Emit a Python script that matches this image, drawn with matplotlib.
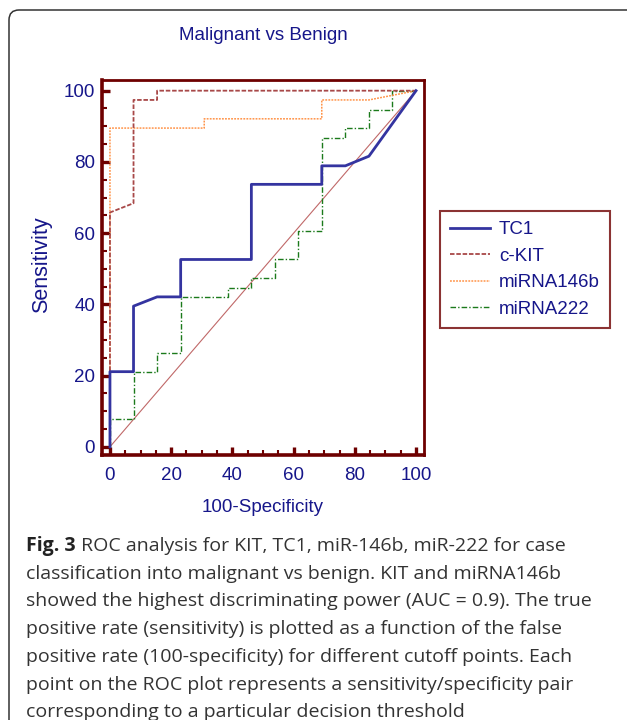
import matplotlib
matplotlib.use("Agg")
import matplotlib.pyplot as plt
from matplotlib import font_manager
from matplotlib.patches import FancyBboxPatch
from matplotlib.transforms import IdentityTransform

# ROC curves (x = 100-specificity, y = sensitivity)
tc1_x = [0, 0, 7.7, 7.7, 15.4, 23.1, 23.1, 46.2, 46.2, 69.2, 69.2, 76.9, 84.6, 100]
tc1_y = [0, 21.1, 21.1, 39.5, 42.1, 42.1, 52.6, 52.6, 73.7, 73.7, 78.9, 78.9, 81.6, 100]

ckit_x = [0, 0, 7.7, 7.7, 15.4, 15.4, 100]
ckit_y = [0, 65.8, 68.4, 97.4, 97.4, 100, 100]

mir146_x = [0, 0, 30.8, 30.8, 69.2, 69.2, 84.6, 100]
mir146_y = [0, 89.5, 89.5, 92.1, 92.1, 97.4, 97.4, 100]

mir222_x = [0, 0, 7.7, 7.7, 15.4, 15.4, 23.1, 23.1, 38.5, 38.5, 46.2, 46.2, 53.8,
            53.8, 61.5, 61.5, 69.2, 69.2, 76.9, 76.9, 84.6, 84.6, 92.3, 92.3, 100]
mir222_y = [0, 7.9, 7.9, 21.1, 21.1, 26.3, 26.3, 42.1, 42.1, 44.7, 44.7, 47.4, 47.4,
            52.6, 52.6, 60.5, 60.5, 86.8, 86.8, 89.5, 89.5, 94.7, 94.7, 100, 100]

labels = ["TC1", "c-KIT", "miRNA146b", "miRNA222"]
ticks = [0, 20, 40, 60, 80, 100]

caption = [
    "ROC analysis for KIT, TC1, miR-146b, miR-222 for case",
    "classification into malignant vs benign. KIT and miRNA146b",
    "showed the highest discriminating power (AUC = 0.9). The true",
    "positive rate (sensitivity) is plotted as a function of the false",
    "positive rate (100-specificity) for different cutoff points. Each",
    "point on the ROC plot represents a sensitivity/specificity pair",
    "corresponding to a particular decision threshold",
]

# narrow font if we have it, the original text is squeezed sideways
names = {f.name for f in font_manager.fontManager.ttflist}
if "Liberation Sans Narrow" in names:
    fam, k = "Liberation Sans Narrow", 1.0
else:
    fam, k = "Liberation Sans", 0.87
plt.rcParams["font.family"] = [fam, "DejaVu Sans"]
cap_fam = ["Open Sans", "DejaVu Sans"]

navy = "#16168a"
dred = "#6e0000"
W, H = 627, 720

fig = plt.figure(figsize=(W / 100, H / 100), dpi=100)
ax = fig.add_axes([102 / W, 1 - 455 / H, 322 / W, 375 / H])

# chance line
ax.plot([0, 100], [0, 100], color="#c06868", lw=0.8, zorder=1)

ax.plot(mir222_x, mir222_y, color="#1b7a1b", lw=1.0, ls=(0, (4, 1.5, 1, 1.5)), label=labels[3])
ax.plot(mir146_x, mir146_y, color="#ff9348", lw=1.1, ls=(0, (1.2, 0.8)), label=labels[2])
ax.plot(ckit_x, ckit_y, color="#a84848", lw=1.3, ls=(0, (2.5, 1)), label=labels[1])
ax.plot(tc1_x, tc1_y, color="#3434a0", lw=2.0, label=labels[0])

ax.set_xlim(-2.6, 102.6)
ax.set_ylim(-2.3, 103.0)
ax.set_xticks(ticks)
ax.set_yticks(ticks)
ax.set_xticks(range(0, 101, 5), minor=True)
ax.set_yticks(range(0, 101, 5), minor=True)
ax.tick_params(which="major", direction="in", length=6, width=2.4, color=dred,
               labelsize=15.5 * k, labelcolor=navy)
ax.tick_params(which="minor", direction="in", length=3.5, width=1.5, color=dred)
ax.tick_params(axis="x", pad=9)
ax.tick_params(axis="y", pad=5)

for s in ["top", "right"]:
    ax.spines[s].set_color(dred)
    ax.spines[s].set_linewidth(2.0)
for s in ["left", "bottom"]:
    ax.spines[s].set_color(dred)
    ax.spines[s].set_linewidth(2.6)

# legend in the order of the original
h, l = ax.get_legend_handles_labels()
order = [3, 2, 1, 0]
leg = fig.legend([h[i] for i in order], [l[i] for i in order],
                 loc="upper left", bbox_to_anchor=(440 / W, 1 - 211 / H),
                 frameon=True, fancybox=False, fontsize=15.5 * k,
                 handlelength=2.1, handletextpad=0.5, labelspacing=0.5,
                 borderpad=0.55, borderaxespad=0)
leg.get_frame().set_edgecolor(dred)
leg.get_frame().set_linewidth(1.5)
for t in leg.get_texts():
    t.set_color(navy)

fig.text(263 / W, 1 - 35 / H, "Malignant vs Benign", color=navy,
         fontsize=15.5 * k, ha="center", va="center")
fig.text(42 / W, 1 - 265 / H, "Sensitivity", color=navy, fontsize=15.5,
         rotation=90, ha="center", va="center")
fig.text(263 / W, 1 - 507 / H, "100-Specificity", color=navy,
         fontsize=15.5 * k, ha="center", va="center")

# outer frame with rounded corner
frame = FancyBboxPatch((9, -20), 660, H - 10 + 20,
                       boxstyle="round,pad=0,rounding_size=10",
                       transform=IdentityTransform(), fill=False,
                       ec="#333333", lw=1.1)
fig.patches.append(frame)

# caption, bold "Fig. 3" then the rest
cap_size = 14.0
y0 = 546
x0 = 26
fb = fig.text(x0 / W, 1 - y0 / H, "Fig. 3", fontsize=cap_size, fontweight="bold",
              family=cap_fam, color="#222222", ha="left", va="center")
r = fig.canvas.get_renderer()
bb = fb.get_window_extent(renderer=r)
for i, line in enumerate(caption):
    yy = 1 - (y0 + i * 27.7) / H
    if i == 0:
        fig.text(bb.x1 / W, yy, " " + line, fontsize=cap_size, family=cap_fam,
                 color="#333333", ha="left", va="center")
    else:
        fig.text(x0 / W, yy, line, fontsize=cap_size, family=cap_fam,
                 color="#333333", ha="left", va="center")

fig.savefig("out.png", dpi=100)
